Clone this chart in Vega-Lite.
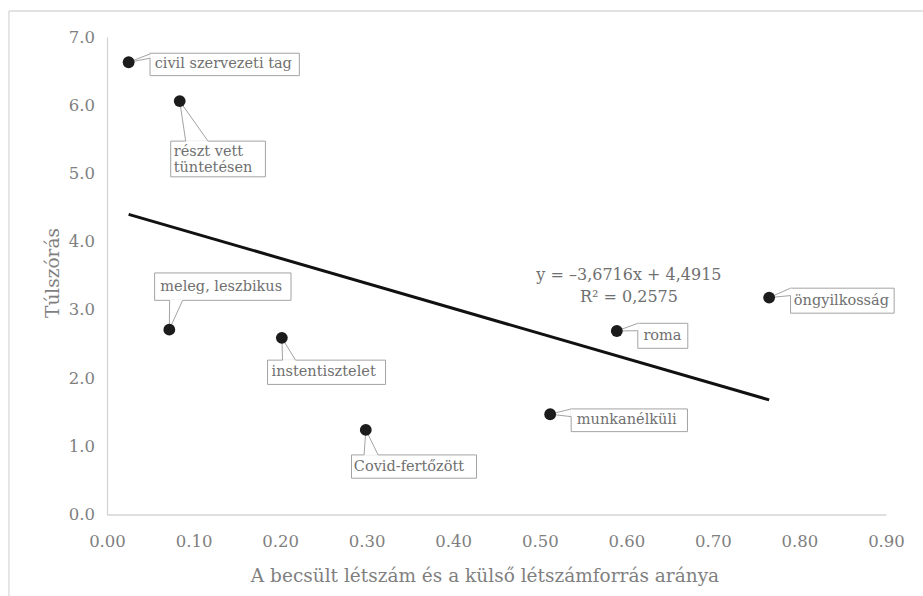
{
  "$schema": "https://vega.github.io/schema/vega-lite/v6.json",
  "width": 779,
  "height": 477.5,
  "autosize": {"type": "none"},
  "padding": {"left": 107, "top": 37, "right": 37, "bottom": 81.5},
  "background": "white",
  "config": {
    "view": {"stroke": null},
    "font": "DejaVu Serif",
    "axis": {
      "grid": false,
      "ticks": false,
      "tickSize": 0,
      "labelFlush": false,
      "domainColor": "#d4d4d4",
      "domainWidth": 1.3,
      "labelColor": "#7f7f7f",
      "labelFontSize": 16.5,
      "labelFont": "DejaVu Serif",
      "titleColor": "#7f7f7f",
      "titleFontSize": 18.5,
      "titleFont": "DejaVu Serif",
      "titleFontWeight": "normal"
    }
  },
  "datasets": {
    "points": [
      {"x": 0.025, "y": 6.63, "label": "civil szervezeti tag"},
      {"x": 0.084, "y": 6.06, "label": "részt vett\ntüntetésen"},
      {"x": 0.072, "y": 2.71, "label": "meleg, leszbikus"},
      {"x": 0.202, "y": 2.59, "label": "instentisztelet"},
      {"x": 0.299, "y": 1.24, "label": "Covid-fertőzött"},
      {"x": 0.512, "y": 1.47, "label": "munkanélküli"},
      {"x": 0.589, "y": 2.69, "label": "roma"},
      {"x": 0.765, "y": 3.18, "label": "öngyilkosság"}
    ],
    "trend": [
      {"x": 0.025, "y": 4.40},
      {"x": 0.765, "y": 1.68}
    ],
    "equation": [
      {"x": 0.603, "y": 3.35, "text": ["y = –3,6716x + 4,4915", "R² = 0,2575"]}
    ],
    "frame": [
      {"x": -0.1133, "y": 7.381, "x2": 0.95, "y2": 7.381},
      {"x": -0.1133, "y": 7.381, "x2": -0.1133, "y2": -1.4}
    ]
  },
  "encoding": {
    "x": {
      "field": "x",
      "type": "quantitative",
      "scale": {"domain": [0, 0.9], "nice": false, "zero": false},
      "axis": {
        "values": [0, 0.1, 0.2, 0.3, 0.4, 0.5, 0.6, 0.7, 0.8, 0.9],
        "format": ".2f",
        "labelPadding": 18.5,
        "title": "A becsült létszám és a külső létszámforrás aránya",
        "titleX": 377.5,
        "titleY": 67.2,
        "titleAlign": "center",
        "titleBaseline": "alphabetic",
        "titleAnchor": null
      }
    },
    "y": {
      "field": "y",
      "type": "quantitative",
      "scale": {"domain": [0, 7], "nice": false, "zero": false},
      "axis": {
        "values": [0, 1, 2, 3, 4, 5, 6, 7],
        "format": ".1f",
        "labelPadding": 12.5,
        "title": "Túlszórás",
        "titleX": -48.7,
        "titleY": 235.5,
        "titleAngle": -90,
        "titleAlign": "center",
        "titleBaseline": "alphabetic",
        "titleAnchor": null
      }
    }
  },
  "layer": [
    {
      "data": {"name": "frame"},
      "mark": {"type": "rule", "color": "#d9d9d9", "strokeWidth": 1.3, "clip": false},
      "encoding": {"x2": {"field": "x2"}, "y2": {"field": "y2"}}
    },
    {
      "data": {"name": "trend"},
      "mark": {"type": "line", "color": "#111111", "strokeWidth": 3}
    },
    {
      "data": {"name": "equation"},
      "mark": {"type": "text", "align": "center", "baseline": "middle", "fontSize": 16, "lineHeight": 21.7, "color": "#6f6f6f", "dy": -10.8},
      "encoding": {"text": {"field": "text"}}
    },
    {
      "data": {"name": "points"},
      "layer": [
        {
          "transform": [{"filter": "datum.label == 'civil szervezeti tag'"}],
          "layer": [
            {"mark": {"type": "rect", "fill": "white", "stroke": "#a3a3a3", "strokeWidth": 1, "xOffset": 21.4, "x2Offset": 170.7, "yOffset": -9, "y2Offset": 13.4}, "encoding": {"x2": {"field": "x"}, "y2": {"field": "y"}}},
            {"mark": {"type": "rule", "color": "white", "strokeWidth": 1.6, "xOffset": 21.4, "yOffset": -8.3, "x2Offset": 21.4, "y2Offset": -4}, "encoding": {"x2": {"field": "x"}, "y2": {"field": "y"}}},
            {"mark": {"type": "rule", "color": "#a3a3a3", "strokeWidth": 1, "x2Offset": 21.4, "y2Offset": -8.3}, "encoding": {"x2": {"field": "x"}, "y2": {"field": "y"}}},
            {"mark": {"type": "rule", "color": "#a3a3a3", "strokeWidth": 1, "x2Offset": 21.4, "y2Offset": -4}, "encoding": {"x2": {"field": "x"}, "y2": {"field": "y"}}},
            {"mark": {"type": "text", "align": "left", "baseline": "middle", "fontSize": 14.5, "color": "#707070", "dx": 26, "dy": 2.2}, "encoding": {"text": {"field": "label"}}}
          ]
        },
        {
          "transform": [{"filter": "datum.label == 'részt vett\\ntüntetésen'"}],
          "layer": [
            {"mark": {"type": "rect", "fill": "white", "stroke": "#a3a3a3", "strokeWidth": 1, "xOffset": -9, "x2Offset": 85.7, "yOffset": 40, "y2Offset": 75.7}, "encoding": {"x2": {"field": "x"}, "y2": {"field": "y"}}},
            {"mark": {"type": "rule", "color": "white", "strokeWidth": 1.6, "xOffset": 6, "yOffset": 40, "x2Offset": 28.3, "y2Offset": 40}, "encoding": {"x2": {"field": "x"}, "y2": {"field": "y"}}},
            {"mark": {"type": "rule", "color": "#a3a3a3", "strokeWidth": 1, "x2Offset": 6, "y2Offset": 40}, "encoding": {"x2": {"field": "x"}, "y2": {"field": "y"}}},
            {"mark": {"type": "rule", "color": "#a3a3a3", "strokeWidth": 1, "x2Offset": 28.3, "y2Offset": 40}, "encoding": {"x2": {"field": "x"}, "y2": {"field": "y"}}},
            {"mark": {"type": "text", "align": "left", "baseline": "middle", "fontSize": 14.5, "color": "#707070", "dx": -6, "dy": 50.7, "lineBreak": "\n", "lineHeight": 16.6}, "encoding": {"text": {"field": "label"}}}
          ]
        },
        {
          "transform": [{"filter": "datum.label == 'meleg, leszbikus'"}],
          "layer": [
            {"mark": {"type": "rect", "fill": "white", "stroke": "#a3a3a3", "strokeWidth": 1, "xOffset": -14.7, "x2Offset": 121.7, "yOffset": -56.7, "y2Offset": -29.3}, "encoding": {"x2": {"field": "x"}, "y2": {"field": "y"}}},
            {"mark": {"type": "rule", "color": "white", "strokeWidth": 1.6, "xOffset": 0.3, "yOffset": -29.3, "x2Offset": 13.3, "y2Offset": -29.3}, "encoding": {"x2": {"field": "x"}, "y2": {"field": "y"}}},
            {"mark": {"type": "rule", "color": "#a3a3a3", "strokeWidth": 1, "x2Offset": 0.3, "y2Offset": -29.3}, "encoding": {"x2": {"field": "x"}, "y2": {"field": "y"}}},
            {"mark": {"type": "rule", "color": "#a3a3a3", "strokeWidth": 1, "x2Offset": 13.3, "y2Offset": -29.3}, "encoding": {"x2": {"field": "x"}, "y2": {"field": "y"}}},
            {"mark": {"type": "text", "align": "left", "baseline": "middle", "fontSize": 14.5, "color": "#707070", "dx": -9, "dy": -43}, "encoding": {"text": {"field": "label"}}}
          ]
        },
        {
          "transform": [{"filter": "datum.label == 'instentisztelet'"}],
          "layer": [
            {"mark": {"type": "rect", "fill": "white", "stroke": "#a3a3a3", "strokeWidth": 1, "xOffset": -14.3, "x2Offset": 103.7, "yOffset": 22.3, "y2Offset": 46.6}, "encoding": {"x2": {"field": "x"}, "y2": {"field": "y"}}},
            {"mark": {"type": "rule", "color": "white", "strokeWidth": 1.6, "xOffset": 0.7, "yOffset": 22.3, "x2Offset": 13.7, "y2Offset": 22.3}, "encoding": {"x2": {"field": "x"}, "y2": {"field": "y"}}},
            {"mark": {"type": "rule", "color": "#a3a3a3", "strokeWidth": 1, "x2Offset": 0.7, "y2Offset": 22.3}, "encoding": {"x2": {"field": "x"}, "y2": {"field": "y"}}},
            {"mark": {"type": "rule", "color": "#a3a3a3", "strokeWidth": 1, "x2Offset": 13.7, "y2Offset": 22.3}, "encoding": {"x2": {"field": "x"}, "y2": {"field": "y"}}},
            {"mark": {"type": "text", "align": "left", "baseline": "middle", "fontSize": 14.5, "color": "#707070", "dx": -10.3, "dy": 34.5}, "encoding": {"text": {"field": "label"}}}
          ]
        },
        {
          "transform": [{"filter": "datum.label == 'Covid-fertőzött'"}],
          "layer": [
            {"mark": {"type": "rect", "fill": "white", "stroke": "#a3a3a3", "strokeWidth": 1, "xOffset": -14.3, "x2Offset": 110.7, "yOffset": 25, "y2Offset": 48.3}, "encoding": {"x2": {"field": "x"}, "y2": {"field": "y"}}},
            {"mark": {"type": "rule", "color": "white", "strokeWidth": 1.6, "xOffset": -1.7, "yOffset": 25, "x2Offset": 12.3, "y2Offset": 25}, "encoding": {"x2": {"field": "x"}, "y2": {"field": "y"}}},
            {"mark": {"type": "rule", "color": "#a3a3a3", "strokeWidth": 1, "x2Offset": -1.7, "y2Offset": 25}, "encoding": {"x2": {"field": "x"}, "y2": {"field": "y"}}},
            {"mark": {"type": "rule", "color": "#a3a3a3", "strokeWidth": 1, "x2Offset": 12.3, "y2Offset": 25}, "encoding": {"x2": {"field": "x"}, "y2": {"field": "y"}}},
            {"mark": {"type": "text", "align": "left", "baseline": "middle", "fontSize": 14.5, "color": "#707070", "dx": -12, "dy": 36.7}, "encoding": {"text": {"field": "label"}}}
          ]
        },
        {
          "transform": [{"filter": "datum.label == 'munkanélküli'"}],
          "layer": [
            {"mark": {"type": "rect", "fill": "white", "stroke": "#a3a3a3", "strokeWidth": 1, "xOffset": 21, "x2Offset": 137.3, "yOffset": -5.3, "y2Offset": 17.4}, "encoding": {"x2": {"field": "x"}, "y2": {"field": "y"}}},
            {"mark": {"type": "rule", "color": "white", "strokeWidth": 1.6, "xOffset": 21, "yOffset": -5.3, "x2Offset": 21, "y2Offset": 2.4}, "encoding": {"x2": {"field": "x"}, "y2": {"field": "y"}}},
            {"mark": {"type": "rule", "color": "#a3a3a3", "strokeWidth": 1, "x2Offset": 21, "y2Offset": -5.3}, "encoding": {"x2": {"field": "x"}, "y2": {"field": "y"}}},
            {"mark": {"type": "rule", "color": "#a3a3a3", "strokeWidth": 1, "x2Offset": 21, "y2Offset": 2.4}, "encoding": {"x2": {"field": "x"}, "y2": {"field": "y"}}},
            {"mark": {"type": "text", "align": "left", "baseline": "middle", "fontSize": 14.5, "color": "#707070", "dx": 26.7, "dy": 6}, "encoding": {"text": {"field": "label"}}}
          ]
        },
        {
          "transform": [{"filter": "datum.label == 'roma'"}],
          "layer": [
            {"mark": {"type": "rect", "fill": "white", "stroke": "#a3a3a3", "strokeWidth": 1, "xOffset": 21, "x2Offset": 71, "yOffset": -7.7, "y2Offset": 17.3}, "encoding": {"x2": {"field": "x"}, "y2": {"field": "y"}}},
            {"mark": {"type": "rule", "color": "white", "strokeWidth": 1.6, "xOffset": 21, "yOffset": -7.7, "x2Offset": 21, "y2Offset": -0.3}, "encoding": {"x2": {"field": "x"}, "y2": {"field": "y"}}},
            {"mark": {"type": "rule", "color": "#a3a3a3", "strokeWidth": 1, "x2Offset": 21, "y2Offset": -7.7}, "encoding": {"x2": {"field": "x"}, "y2": {"field": "y"}}},
            {"mark": {"type": "rule", "color": "#a3a3a3", "strokeWidth": 1, "x2Offset": 21, "y2Offset": -0.3}, "encoding": {"x2": {"field": "x"}, "y2": {"field": "y"}}},
            {"mark": {"type": "text", "align": "left", "baseline": "middle", "fontSize": 14.5, "color": "#707070", "dx": 26.6, "dy": 4.8}, "encoding": {"text": {"field": "label"}}}
          ]
        },
        {
          "transform": [{"filter": "datum.label == 'öngyilkosság'"}],
          "layer": [
            {"mark": {"type": "rect", "fill": "white", "stroke": "#a3a3a3", "strokeWidth": 1, "xOffset": 21.4, "x2Offset": 125, "yOffset": -9.4, "y2Offset": 15.6}, "encoding": {"x2": {"field": "x"}, "y2": {"field": "y"}}},
            {"mark": {"type": "rule", "color": "white", "strokeWidth": 1.6, "xOffset": 21.4, "yOffset": -9.4, "x2Offset": 21.4, "y2Offset": -2}, "encoding": {"x2": {"field": "x"}, "y2": {"field": "y"}}},
            {"mark": {"type": "rule", "color": "#a3a3a3", "strokeWidth": 1, "x2Offset": 21.4, "y2Offset": -9.4}, "encoding": {"x2": {"field": "x"}, "y2": {"field": "y"}}},
            {"mark": {"type": "rule", "color": "#a3a3a3", "strokeWidth": 1, "x2Offset": 21.4, "y2Offset": -2}, "encoding": {"x2": {"field": "x"}, "y2": {"field": "y"}}},
            {"mark": {"type": "text", "align": "left", "baseline": "middle", "fontSize": 14.5, "color": "#707070", "dx": 24.7, "dy": 3.1}, "encoding": {"text": {"field": "label"}}}
          ]
        },
        {
          "mark": {"type": "circle", "size": 140, "color": "#1c1c1c", "opacity": 1}
        }
      ]
    }
  ]
}
